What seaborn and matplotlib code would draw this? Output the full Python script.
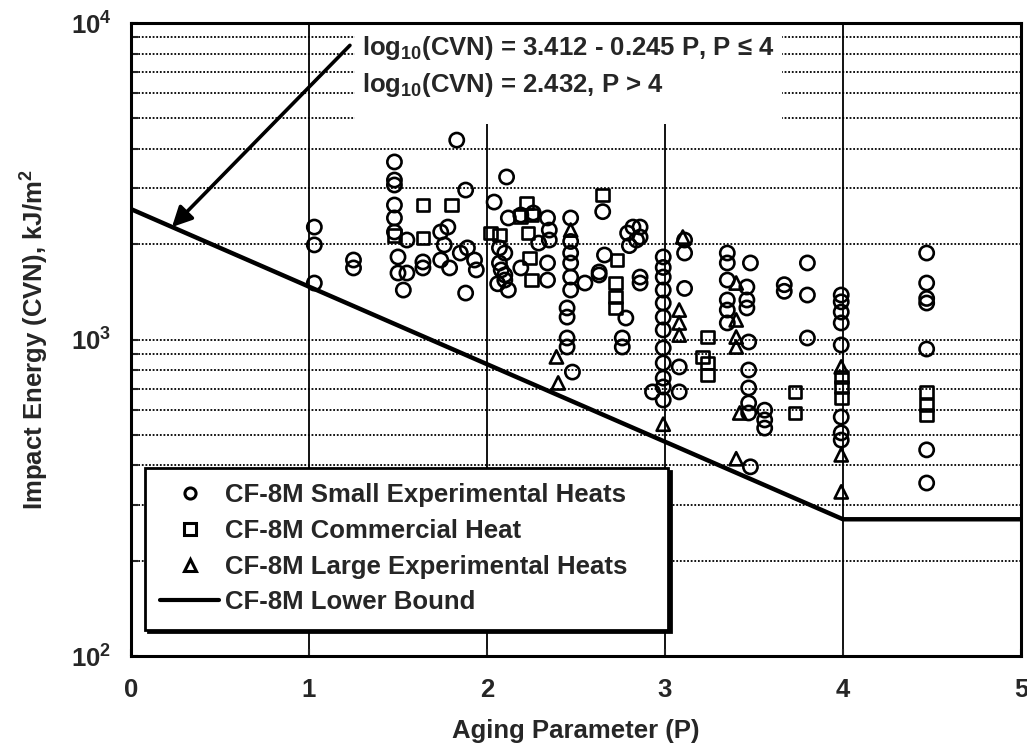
import numpy as np
import pandas as pd
import matplotlib
matplotlib.use("Agg")
import matplotlib.pyplot as plt
import seaborn as sns
from matplotlib.lines import Line2D
from matplotlib.patches import Rectangle
from matplotlib.ticker import FixedLocator, FixedFormatter, NullFormatter

# ---------------- data ----------------
small_P = [1.03, 1.03, 1.03, 1.25, 1.25,
           1.48, 1.48, 1.48, 1.48, 1.48, 1.48, 1.50, 1.50, 1.53, 1.55, 1.55,
           1.64, 1.64, 1.74, 1.78, 1.76, 1.74, 1.79, 1.85, 1.89, 1.83, 1.88, 1.88,
           1.93, 1.94, 2.04, 2.11, 2.12, 2.07, 2.07, 2.08, 2.10, 2.06, 2.12,
           2.19, 2.26, 2.34, 2.35, 2.35, 2.29, 2.10, 2.10, 2.19, 2.34, 2.34,
           2.47, 2.47, 2.47, 2.47, 2.47, 2.47, 2.45, 2.45, 2.45, 2.45, 2.48,
           2.55, 2.63, 2.65, 2.66, 2.63, 2.78, 2.76, 2.76,
           2.79, 2.82, 2.86, 2.84, 2.80, 2.86, 2.86, 2.86,
           2.99, 2.99, 2.99, 2.99, 2.99, 2.99, 2.99, 2.99, 2.99, 2.99, 2.99, 2.99, 2.93,
           3.11, 3.11, 3.11, 3.08, 3.08,
           3.35, 3.35, 3.35, 3.35, 3.35, 3.35,
           3.46, 3.46, 3.46, 3.47, 3.47, 3.47, 3.47, 3.47, 3.48,
           3.56, 3.56, 3.56, 3.48, 3.67, 3.67, 3.80, 3.80, 3.80,
           3.99, 3.99, 3.99, 3.99, 3.99, 3.99, 3.99, 3.99,
           4.47, 4.47, 4.47, 4.47, 4.47, 4.47, 4.47]
small_CVN = [2266, 1990, 1508, 1783, 1683,
             3639, 3190, 3077, 2660, 2421, 2186, 1823, 1622, 1433, 2062, 1622,
             1758, 1683, 2186, 2266, 1990, 1783, 1683, 1876, 1947, 4266, 2966, 1402,
             1783, 1659, 2718, 3262, 2421, 1947, 1745, 1659, 1541, 1500, 1433,
             2473, 2510, 2421, 2217, 2062, 2017, 1876, 1599, 1683, 1745, 1541,
             2421, 2040, 1876, 1745, 1575, 1433, 1258, 1177, 1011, 947, 789,
             1508, 1599, 2535, 1849, 1634, 1169, 1011, 947,
             2169, 2266, 2266, 2062, 1980, 2107, 1575, 1508,
             1823, 1689, 1575, 1433, 1304, 1177, 1072, 940, 843, 755, 708, 644, 683,
             2062, 1876, 1450, 819, 683,
             1876, 1745, 1541, 1333, 1239, 1128,
             1465, 1333, 1258, 982, 801, 703, 630, 586, 1745,
             598, 557, 525, 396, 1490, 1420, 1745, 1382, 1011,
             1382, 1315, 1221, 1128, 961, 569, 507, 481,
             1876, 1508, 1348, 1304, 933, 448, 352]

comm_P = [1.64, 1.80, 1.64, 1.48, 2.02, 2.07,
          2.22, 2.19, 2.25, 2.23, 2.24, 2.25,
          2.65, 2.73, 2.72, 2.72, 2.72,
          3.24, 3.21, 3.24, 3.24, 3.73, 3.73,
          3.99, 3.99, 3.99, 4.47, 4.47, 4.47]
comm_CVN = [2660, 2660, 2094, 2130, 2169, 2140,
            2698, 2440, 2473, 2169, 1810, 1541,
            2862, 1783, 1508, 1362, 1258,
            1018, 881, 843, 772, 683, 586,
            761, 708, 653, 683, 621, 577]

large_P = [2.47, 2.39, 2.40, 2.99, 2.99,
           3.10, 3.08, 3.08, 3.08,
           3.40, 3.40, 3.40, 3.40, 3.42, 3.40,
           3.99, 3.99, 3.99]
large_CVN = [2217, 881, 729, 540, 334,
             2107, 1239, 1128, 1033,
             1508, 1153, 1018, 947, 586, 420,
             819, 432, 330]

bound_P = [0.0, 4.0, 5.0]
bound_CVN = [2582, 270.4, 270.4]

labels = ["CF-8M Small Experimental Heats", "CF-8M Commercial Heat",
          "CF-8M Large Experimental Heats", "CF-8M Lower Bound"]
x_ticks = [0, 1, 2, 3, 4, 5]
y_ticks = [100, 1000, 10000]
y_tick_labels = [r"$\mathdefault{10^{2}}$", r"$\mathdefault{10^{3}}$", r"$\mathdefault{10^{4}}$"]
eq1 = r"log$_{\mathdefault{10}}$(CVN) = 3.412 - 0.245 P, P ≤ 4"
eq2 = r"log$_{\mathdefault{10}}$(CVN) = 2.432, P > 4"

# ---------------- style ----------------
sns.set_style("ticks")
plt.rcParams["font.family"] = ["Liberation Sans", "DejaVu Sans"]
plt.rcParams["font.weight"] = "bold"
plt.rcParams["mathtext.fontset"] = "custom"
plt.rcParams["mathtext.rm"] = "Liberation Sans:bold"
plt.rcParams["mathtext.bf"] = "Liberation Sans:bold"
plt.rcParams["mathtext.it"] = "Liberation Sans:bold"
plt.rcParams["mathtext.default"] = "rm"

FS = 18.5

fig = plt.figure(figsize=(10.27, 7.46), dpi=100)
ax = fig.add_axes([131 / 1027, 1 - 656 / 746, 890 / 1027, 633 / 746])
ax.set_yscale("log")
ax.set_xlim(0, 5)
ax.set_ylim(100, 10000)
ax.set_axisbelow(True)

# grid
ax.xaxis.grid(True, which="major", color="k", lw=1.3, ls="-")
ax.yaxis.grid(True, which="both", color="k", lw=1.3, ls=(0, (1, 1)))

# white box behind equations
ax.add_patch(Rectangle((1.26, 4800), 2.40, 5200, facecolor="white",
                       edgecolor="none", zorder=2))

# data
df_s = pd.DataFrame({"P": small_P, "CVN": small_CVN})
df_c = pd.DataFrame({"P": comm_P, "CVN": comm_CVN})
df_l = pd.DataFrame({"P": large_P, "CVN": large_CVN})
sns.scatterplot(data=df_s, x="P", y="CVN", marker="o", s=105, facecolor="none",
                edgecolor="k", linewidth=1.9, ax=ax, zorder=4)
sns.scatterplot(data=df_c, x="P", y="CVN", marker="s", s=85, facecolor="none",
                edgecolor="k", linewidth=1.9, ax=ax, zorder=4)
sns.scatterplot(data=df_l, x="P", y="CVN", marker="^", s=90, facecolor="none",
                edgecolor="k", linewidth=1.9, ax=ax, zorder=4)
sns.lineplot(x=bound_P, y=bound_CVN, color="k", lw=3.2, ax=ax, zorder=3,
             estimator=None)

# equations and arrow
ax.text(1.30, 7925, eq1, fontsize=FS, fontweight="bold", va="baseline", zorder=5)
ax.text(1.30, 6053, eq2, fontsize=FS, fontweight="bold", va="baseline", zorder=5)
ax.annotate("", xy=(0.23, 2266), xytext=(1.23, 8500),
            arrowprops=dict(arrowstyle="-|>", color="k", lw=2.6,
                            mutation_scale=30, shrinkA=0, shrinkB=0), zorder=5)

# axes
ax.xaxis.set_major_locator(FixedLocator(x_ticks))
ax.set_xticklabels([str(v) for v in x_ticks])
ax.yaxis.set_major_locator(FixedLocator(y_ticks))
ax.yaxis.set_major_formatter(FixedFormatter(y_tick_labels))
ax.yaxis.set_minor_formatter(NullFormatter())
ax.tick_params(axis="x", which="major", direction="in", length=5, width=1.5,
               labelsize=FS, pad=16)
ax.tick_params(axis="y", which="both", direction="in", length=5, width=1.5,
               labelsize=FS, pad=14)
for sp in ax.spines.values():
    sp.set_linewidth(2.2)
    sp.set_color("k")
    sp.set_zorder(6)

ax.set_xlabel("Aging Parameter (P)", fontsize=FS, fontweight="bold")
ax.set_ylabel(r"Impact Energy (CVN), kJ/m$^{\mathdefault{2}}$", fontsize=FS,
              fontweight="bold")
ax.xaxis.set_label_coords(0.5, -0.1)
ax.yaxis.set_label_coords(-0.09, 0.5)

# legend
handles = [
    Line2D([], [], ls="none", marker="o", ms=8, mfc="none", mec="k", mew=2.2),
    Line2D([], [], ls="none", marker="s", ms=8, mfc="none", mec="k", mew=2.2),
    Line2D([], [], ls="none", marker="^", ms=8, mfc="none", mec="k", mew=2.2),
    Line2D([], [], color="k", lw=3),
]
leg = ax.legend(handles, labels, loc="upper left",
                bbox_to_anchor=(0.0157, 0.038, 0.5876, 0.259), mode="expand",
                borderaxespad=0, fontsize=FS, handlelength=2.3,
                handletextpad=0.2, labelspacing=0.45, borderpad=0.6,
                frameon=True, fancybox=False, shadow={"color": "k", "alpha": 1})
leg.get_frame().set_edgecolor("k")
leg.get_frame().set_linewidth(2)
leg.get_frame().set_facecolor("white")
leg.get_frame().set_alpha(1)
leg.set_zorder(7)

fig.savefig("out.png", dpi=100)
